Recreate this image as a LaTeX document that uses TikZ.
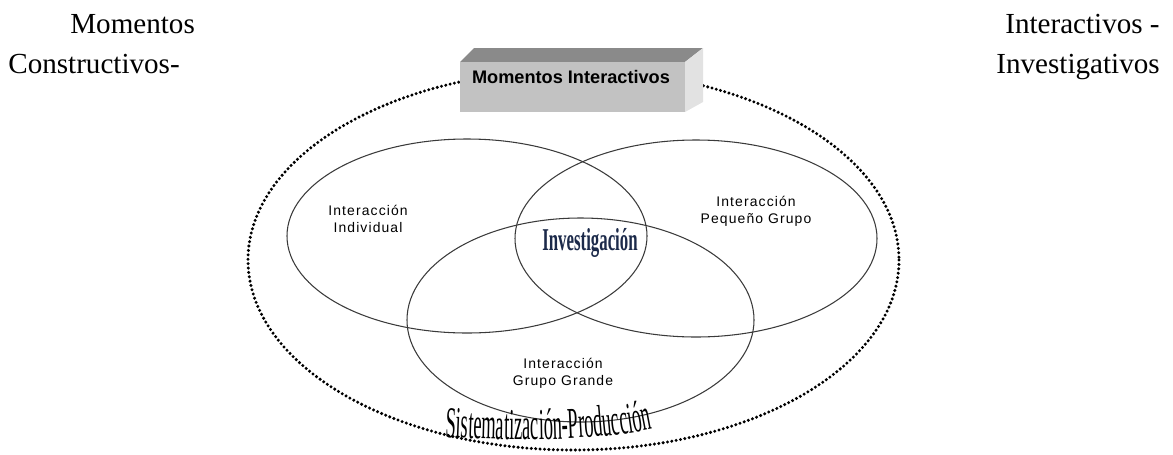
\documentclass[tikz,border=0pt]{standalone}
\usepackage{fontspec}
\setmainfont{Liberation Serif}
\newfontfamily\lblfont[LetterSpace=8]{Liberation Sans}
\newfontfamily\boxfont{Liberation Sans}
\newfontfamily\invfont[FakeStretch=0.53]{Liberation Serif}
\newfontfamily\sistfont[FakeStretch=0.42]{Liberation Serif}
\usetikzlibrary{decorations.text}

\definecolor{topface}{HTML}{8A8A8A}
\definecolor{frontface}{HTML}{C2C2C2}
\definecolor{sideface}{HTML}{E2E2E2}
\definecolor{invblue}{HTML}{1C2A4A}
\definecolor{ringline}{HTML}{3A3A3A}

\tikzset{
  ring/.style={draw=ringline, line width=0.6pt},
  dotring/.style={draw=black, line width=1.9pt, line cap=round, dash pattern=on 0pt off 2.5pt},
  pagetext/.style={font=\fontsize{16.5}{19}\selectfont, inner sep=0pt},
  venntext/.style={font=\lblfont\fontsize{7.9}{9.6}\selectfont, align=center, inner sep=0pt, text=black},
}

\begin{document}
\begin{tikzpicture}[x=0.5669pt, y=-0.5669pt]
  \useasboundingbox (0,0) rectangle (1173,454);

  % running text around the figure
  \node[pagetext, anchor=base west] (m1) at (70,33) {Momentos};
  \node[pagetext, anchor=base west] (m2) at (8,73) {Constructivos-};
  \node[pagetext, anchor=base east] (m3) at (1160,33) {Interactivos -};
  \node[pagetext, anchor=base east] (m4) at (1160,73) {Investigativos};

  % dotted outer boundary
  \draw[dotring] (573.5,260) ellipse [x radius=325.5, y radius=190];

  % 3D title block
  \fill[topface] (460,62) -- (474,48) -- (703,48) -- (685,62) -- cycle;
  \fill[sideface] (685,62) -- (703,48) -- (703,102) -- (685,112) -- cycle;
  \fill[frontface] (460,62) rectangle (685,112);
  \node[font=\boxfont\bfseries\fontsize{10.3}{12}\selectfont, anchor=base, inner sep=0pt] (title) at (571,83) {Momentos Interactivos};

  % three overlapping interaction sets
  \draw[ring] (467,236) ellipse [x radius=180, y radius=97];
  \draw[ring] (696,238.5) ellipse [x radius=181, y radius=98.5];
  \draw[ring] (580.5,320) ellipse [x radius=173.5, y radius=102];

  \node[venntext] (ind) at (368,219) {Interacción\\Individual};
  \node[venntext] (peq) at (756,211) {Interacción\\Pequeño Grupo};
  \node[venntext] (gra) at (563,373) {Interacción\\Grupo Grande};

  \node[font=\invfont\bfseries\fontsize{18}{20}\selectfont, text=invblue, anchor=base, inner sep=0pt] (inv) at (590,250) {Investigación};

  % curved caption along the lower rim
  \path[decorate, decoration={text along path, text align=center,
      text={|\sistfont\fontsize{25}{27}\selectfont|Sistematización-Producción}}]
    (440,437) .. controls (520,441) and (600,441) .. (658,428);
\end{tikzpicture}
\end{document}
